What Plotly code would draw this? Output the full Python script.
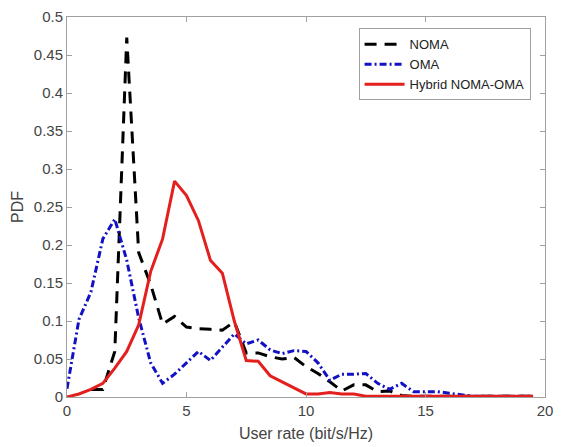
import plotly.graph_objects as go

user_rate = [i * 0.5 for i in range(40)]

pdf_noma = [None, None, 0.010, 0.010, 0.060, 0.473, 0.190, 0.148, 0.096, 0.106,
            0.092, 0.090, 0.089, 0.088, 0.099, 0.058, 0.058, 0.053, 0.050, 0.052,
            0.040, 0.031, 0.020, 0.008, 0.016, 0.016, 0.007, 0.008, 0.002, 0.001,
            0.001, 0.001, 0.001, 0.001, 0.001, 0.001, 0.001, 0.001, 0.001, 0.001]

pdf_oma = [0.011, 0.102, 0.138, 0.208, 0.234, 0.180, 0.104, 0.045, 0.018, 0.030,
           0.045, 0.060, 0.048, 0.066, 0.083, 0.070, 0.075, 0.062, 0.057, 0.061,
           0.060, 0.045, 0.022, 0.030, 0.030, 0.031, 0.018, 0.010, 0.018, 0.007,
           0.007, 0.007, 0.005, 0.003, 0.001, 0.001, 0.001, 0.001, 0.001, 0.001]

pdf_hybrid = [0.000, 0.004, 0.010, 0.018, 0.038, 0.060, 0.095, 0.165, 0.208, 0.284,
              0.265, 0.232, 0.180, 0.163, 0.100, 0.048, 0.047, 0.028, 0.020, 0.012,
              0.004, 0.004, 0.006, 0.004, 0.004, 0.001, 0.001, 0.001, 0.001, 0.001,
              0.001, 0.001, 0.001, 0.001, 0.001, 0.001, 0.001, 0.001, 0.001, 0.001]

names = ["NOMA", "OMA", "Hybrid NOMA-OMA"]
x_ticks = [0, 5, 10, 15, 20]
y_ticks = [0, 0.05, 0.1, 0.15, 0.2, 0.25, 0.3, 0.35, 0.4, 0.45, 0.5]
y_tick_text = ["0", "0.05", "0.1", "0.15", "0.2", "0.25", "0.3", "0.35", "0.4", "0.45", "0.5"]

fig = go.Figure()
fig.add_trace(go.Scatter(x=user_rate, y=pdf_noma, name=names[0], mode="lines",
                         line=dict(color="#000000", width=3, dash="12px,8px")))
fig.add_trace(go.Scatter(x=user_rate, y=pdf_oma, name=names[1], mode="lines",
                         line=dict(color="#1212C4", width=3, dash="7px,3px,2px,3px")))
fig.add_trace(go.Scatter(x=user_rate, y=pdf_hybrid, name=names[2], mode="lines",
                         line=dict(color="#E3201E", width=3)))

axis_common = dict(showgrid=False, zeroline=False, showline=True, linecolor="#A0A0A0",
                   linewidth=1, mirror="ticks", ticks="inside", ticklen=5,
                   tickcolor="#A0A0A0", tickfont=dict(size=15, color="#444444"))

fig.update_layout(
    width=561, height=447,
    margin=dict(l=67, r=8, t=12, b=50),
    paper_bgcolor="white", plot_bgcolor="white",
    font=dict(family="Liberation Sans, Arial, sans-serif", color="#444444"),
    xaxis=dict(range=[0, 20], tickvals=x_ticks,
               title=dict(text="User rate (bit/s/Hz)", font=dict(size=16), standoff=9),
               **axis_common),
    yaxis=dict(range=[0, 0.5], tickvals=y_ticks, ticktext=y_tick_text,
               title=dict(text="PDF", font=dict(size=16), standoff=6),
               **axis_common),
    legend=dict(x=0.61, y=0.97, xanchor="left", yanchor="top",
                bgcolor="white", bordercolor="#A0A0A0", borderwidth=1,
                font=dict(size=13, color="#222222"), tracegroupgap=0,
                itemwidth=40),
    showlegend=True,
)

fig.write_html("out.html")
